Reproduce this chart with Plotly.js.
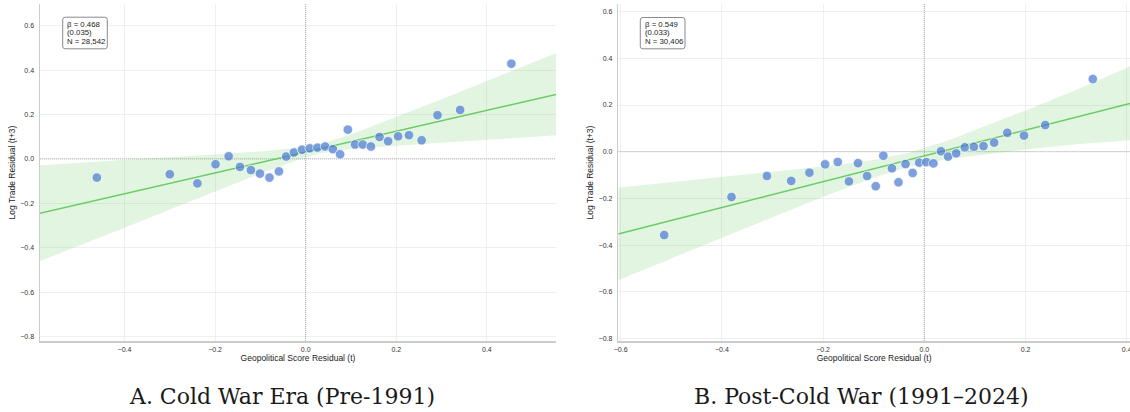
<!DOCTYPE html>
<html>
<head>
<meta charset="utf-8">
<script src="https://cdn.plot.ly/plotly-3.0.1.min.js"></script>
<style>html,body{margin:0;padding:0;background:#fff;}#chart{width:1130px;height:412px;}</style>
</head>
<body>
<div id="chart"></div>
<script>
// ---------- Data ----------
const coldX = [-0.461,-0.300,-0.239,-0.199,-0.170,-0.145,-0.121,-0.101,-0.080,-0.059,-0.043,-0.026,-0.008,0.009,0.026,0.043,0.060,0.076,0.093,0.109,0.126,0.144,0.163,0.182,0.204,0.228,0.256,0.291,0.341,0.454];
const coldY = [-0.084,-0.069,-0.110,-0.024,0.012,-0.036,-0.050,-0.066,-0.084,-0.056,0.011,0.029,0.042,0.048,0.051,0.056,0.044,0.021,0.132,0.065,0.065,0.056,0.099,0.080,0.102,0.107,0.084,0.197,0.221,0.429];
const coldFitX = [-0.587, 0.553];
const coldFitY = [-0.245, 0.291];
const coldBandX = [-0.587,-0.5,-0.4,-0.3,-0.2,-0.1,0,0.03,0.1,0.2,0.3,0.4,0.553];
const coldBandUpper = [-0.029,-0.016,-0.004,0.008,0.021,0.034,0.054,0.065,0.110,0.188,0.269,0.351,0.477];
const coldBandLower = [-0.460,-0.392,-0.310,-0.228,-0.146,-0.066,0.008,0.025,0.046,0.062,0.075,0.087,0.107];

const postX = [-0.514,-0.381,-0.311,-0.263,-0.227,-0.196,-0.171,-0.149,-0.131,-0.113,-0.096,-0.081,-0.064,-0.051,-0.037,-0.023,-0.010,0.004,0.018,0.033,0.047,0.063,0.080,0.098,0.117,0.138,0.164,0.197,0.239,0.333];
const postY = [-0.357,-0.194,-0.104,-0.125,-0.090,-0.054,-0.044,-0.127,-0.049,-0.104,-0.148,-0.017,-0.071,-0.131,-0.053,-0.091,-0.047,-0.045,-0.050,0.002,-0.021,-0.007,0.019,0.021,0.024,0.039,0.081,0.069,0.114,0.311];
const postFitX = [-0.605, 0.4065];
const postFitY = [-0.352, 0.207];
const postBandX = [-0.605,-0.5,-0.4,-0.3,-0.2,-0.1,-0.03,0.05,0.1,0.2,0.3,0.4065];
const postBandUpper = [-0.154,-0.131,-0.110,-0.086,-0.063,-0.035,-0.004,0.050,0.092,0.177,0.264,0.365];
const postBandLower = [-0.550,-0.457,-0.368,-0.280,-0.193,-0.111,-0.064,-0.030,-0.016,0.009,0.032,0.049];

const statsA = ["β = 0.468", "(0.035)", "N = 28,542"];
const statsB = ["β = 0.549", "(0.033)", "N = 30,406"];
const panelTitles = ["A. Cold War Era (Pre-1991)", "B. Post-Cold War (1991–2024)"];
const xTitle = "Geopolitical Score Residual (t)";
const yTitle = "Log Trade Residual (t+3)";

// axis ranges (layout)
const rangeX1 = [-0.5865, 0.5526], rangeY1 = [-0.820, 0.698];
const rangeX2 = [-0.6047, 0.4065], rangeY2 = [-0.8107, 0.6326];

// ---------- Layout helpers ----------
const W = 1130, H = 412, M = {l: 40, r: 0, t: 4, b: 71};
const PW = W - M.l - M.r, PH = H - M.t - M.b;
const fx = p => (p - M.l) / PW;
const fy = p => (H - M.b - p) / PH;

const BLUE = 'rgba(72,120,208,0.7)';
const GREEN = '#6acc64';
const BAND = 'rgba(106,204,100,0.2)';
const ZLINE = {color: '#a8a8a8', width: 0.9, dash: '1px,1px'};

function zeroTraces(rx, ry, xa, ya) {
  // reference lines x = 0 and y = 0, spanning the axis ranges
  return [
    {x: [0, 0], y: ry, xaxis: xa, yaxis: ya, type: 'scatter', mode: 'lines', line: ZLINE, hoverinfo: 'skip', showlegend: false, cliponaxis: true},
    {x: rx, y: [0, 0], xaxis: xa, yaxis: ya, type: 'scatter', mode: 'lines', line: ZLINE, hoverinfo: 'skip', showlegend: false, cliponaxis: true}
  ];
}
function bandTrace(bx, up, lo, xa, ya) {
  return {
    x: bx.concat(bx.slice().reverse()),
    y: up.concat(lo.slice().reverse()),
    xaxis: xa, yaxis: ya, type: 'scatter', mode: 'lines',
    fill: 'toself', fillcolor: BAND, line: {width: 0, color: BAND},
    hoverinfo: 'skip', showlegend: false
  };
}
function fitTrace(x, y, xa, ya) {
  return {x, y, xaxis: xa, yaxis: ya, type: 'scatter', mode: 'lines',
    line: {color: GREEN, width: 1.5}, showlegend: false};
}
function ptsTrace(x, y, xa, ya) {
  return {x, y, xaxis: xa, yaxis: ya, type: 'scatter', mode: 'markers',
    marker: {color: BLUE, size: 9.5, line: {color: '#ffffff', width: 0.7}}, showlegend: false};
}

const traces = []
  .concat(zeroTraces(rangeX1, rangeY1, 'x', 'y'))
  .concat([
    bandTrace(coldBandX, coldBandUpper, coldBandLower, 'x', 'y'),
    fitTrace(coldFitX, coldFitY, 'x', 'y'),
    ptsTrace(coldX, coldY, 'x', 'y')
  ])
  .concat(zeroTraces(rangeX2, rangeY2, 'x2', 'y2'))
  .concat([
    bandTrace(postBandX, postBandUpper, postBandLower, 'x2', 'y2'),
    fitTrace(postFitX, postFitY, 'x2', 'y2'),
    ptsTrace(postX, postY, 'x2', 'y2')
  ]);

const tickFont = {family: 'Liberation Sans, Arial, sans-serif', size: 7, color: '#333'};
const titleFont = {family: 'Liberation Sans, Arial, sans-serif', size: 8.5, color: '#222'};

function xAxis(domain, range, anchor) {
  return {domain, range, anchor, tickmode: 'array',
    tickvals: [-0.6,-0.4,-0.2,0,0.2,0.4], tickformat: '.1f',
    ticks: '', showgrid: true, gridcolor: '#ebebeb', gridwidth: 0.8,
    zeroline: false, showline: true, linecolor: '#cccccc', linewidth: 1.5,
    tickfont: tickFont, ticklabelstandoff: 1, ticklabeloverflow: 'allow',
    title: {text: xTitle, font: titleFont, standoff: 3}};
}
function yAxis(range, anchor) {
  return {domain: [0, 1], range, anchor, tickmode: 'array',
    tickvals: [-0.8,-0.6,-0.4,-0.2,0,0.2,0.4,0.6], tickformat: '.1f',
    ticks: '', showgrid: true, gridcolor: '#ebebeb', gridwidth: 0.8,
    zeroline: false, showline: true, linecolor: '#cccccc', linewidth: 1.5,
    tickfont: tickFont, ticklabelstandoff: 3,
    title: {text: yTitle, font: titleFont, standoff: 3}};
}

function roundBox(x0, y0, x1, y1, r) {
  // pixel coordinates -> paper path with rounded corners
  const P = (x, y) => fx(x).toFixed(5) + ',' + fy(y).toFixed(5);
  const d = 'M' + P(x0 + r, y0) + ' L' + P(x1 - r, y0) + ' Q' + P(x1, y0) + ' ' + P(x1, y0 + r) +
    ' L' + P(x1, y1 - r) + ' Q' + P(x1, y1) + ' ' + P(x1 - r, y1) +
    ' L' + P(x0 + r, y1) + ' Q' + P(x0, y1) + ' ' + P(x0, y1 - r) +
    ' L' + P(x0, y0 + r) + ' Q' + P(x0, y0) + ' ' + P(x0 + r, y0) + ' Z';
  return {type: 'path', xref: 'paper', yref: 'paper', path: d,
    fillcolor: 'rgba(255,255,255,0.85)', line: {color: '#8a8a8a', width: 1}, layer: 'above'};
}
function statAnns(lines, xPix, yPixs) {
  return lines.map((t, i) => ({
    text: t, xref: 'paper', yref: 'paper', x: fx(xPix), y: fy(yPixs[i]),
    xanchor: 'left', yanchor: 'middle', showarrow: false,
    font: {family: 'Liberation Sans, Arial, sans-serif', size: 7.8, color: '#222'}
  }));
}

const captionFont = {family: 'DejaVu Serif, serif', size: 22, color: '#1a1a1a'};
const annotations = []
  .concat(statAnns(statsA, 64.8, [24.5, 32.8, 41.1]))
  .concat(statAnns(statsB, 642.5, [24.7, 33.0, 41.3]))
  .concat([
    {text: panelTitles[0], xref: 'paper', yref: 'paper', x: fx(281.5), y: fy(396.5),
      xanchor: 'center', yanchor: 'middle', showarrow: false, font: captionFont},
    {text: panelTitles[1], xref: 'paper', yref: 'paper', x: fx(861), y: fy(396.5),
      xanchor: 'center', yanchor: 'middle', showarrow: false, font: captionFont}
  ]);

const layout = {
  width: W, height: H,
  margin: M,
  paper_bgcolor: '#ffffff', plot_bgcolor: '#ffffff',
  showlegend: false,
  xaxis: xAxis([0, fx(556)], rangeX1, 'y'),
  yaxis: yAxis(rangeY1, 'x'),
  xaxis2: xAxis([fx(618.3), 1], rangeX2, 'y2'),
  yaxis2: yAxis(rangeY2, 'x2'),
  shapes: [
    roundBox(62.7, 17.2, 107.3, 48.8, 2.5),
    roundBox(640.3, 17.5, 685, 48.8, 2.5)
  ],
  annotations
};

Plotly.newPlot('chart', traces, layout, {staticPlot: true, displayModeBar: false});
</script>
</body>
</html>
